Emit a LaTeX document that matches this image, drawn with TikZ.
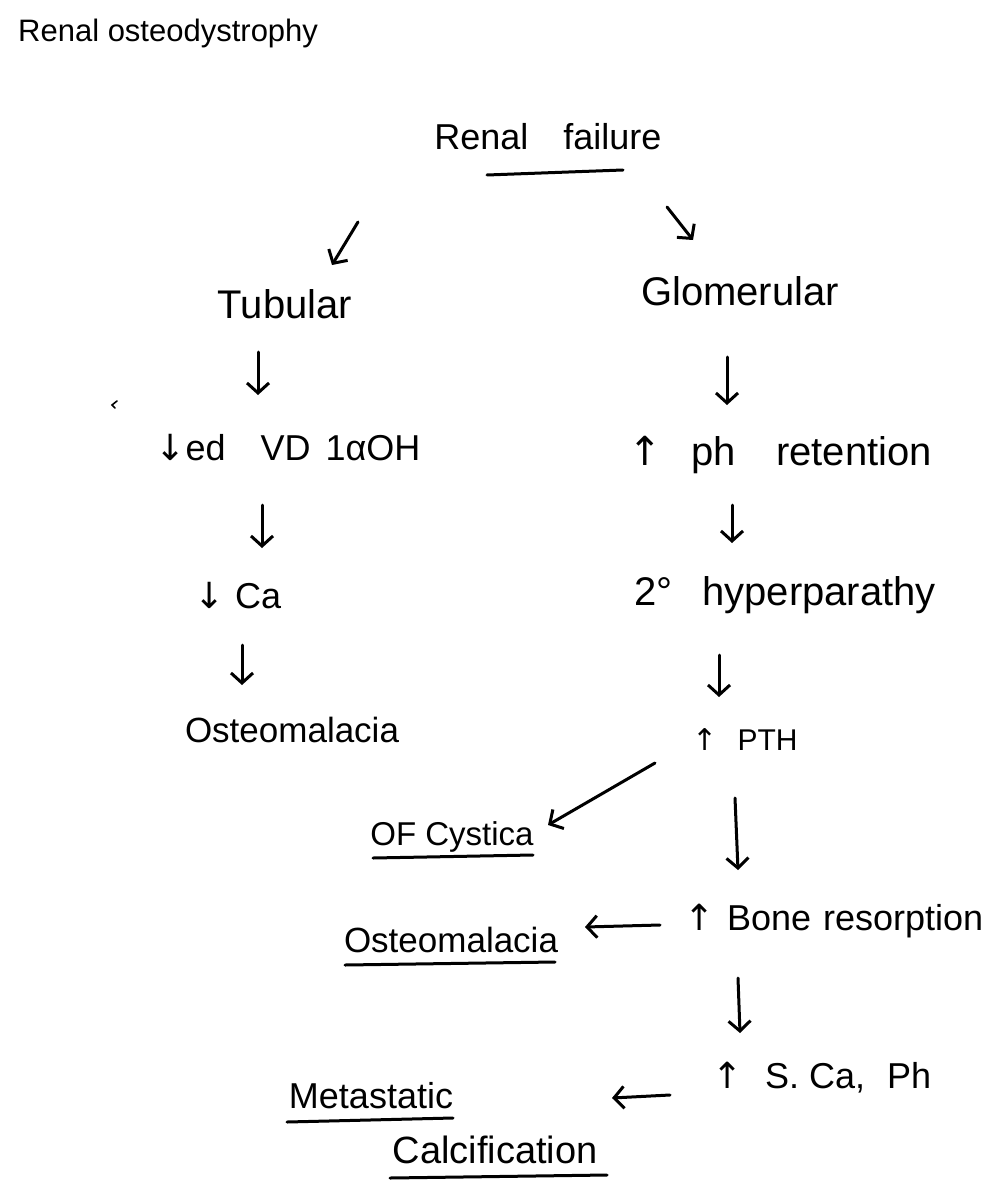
\documentclass[tikz,border=0pt]{standalone}
\usepackage{fontspec}
\setmainfont{Liberation Sans}
\newfontfamily\symf{DejaVu Sans}
\usetikzlibrary{arrows.meta,calc}
\newcommand{\up}{{\symf ↑}}
\newcommand{\dn}{{\symf ↓}}
\newcommand{\fs}[1]{\fontsize{#1}{#1}\selectfont}
\tikzset{
  hw/.style={anchor=base, inner sep=0pt, font=\fs{36}, text=black},
  arr/.style={line width=3pt, line cap=round, line join=round, -{Straight Barb[length=10pt,width=22pt,line width=3pt]}},
  uline/.style={line width=3pt, line cap=round}
}
\begin{document}
\begin{tikzpicture}[x=1pt,y=-1pt]
\fill[white] (0,0) rectangle (1002,1201);
\useasboundingbox (0,0) rectangle (1002,1201);

\node[anchor=base west, inner sep=0pt, font=\fs{31}] (title) at (18,42) {Renal osteodystrophy};

\node[hw] (rf) at (548,150) {Renal\hspace{35pt}failure};
\node[hw, font=\fs{40}] (tub) at (285,318) {Tubular};
\node[hw, font=\fs{40}] (glom) at (740,305) {Glomerular};
\node[hw] (ved) at (288,460) {\dn ed\hspace{35pt}VD\hspace{15pt}1αOH};
\node[hw] (ca) at (238,608) {\dn\ Ca};
\node[hw, font=\fs{35}] (ost1) at (292,742) {Osteomalacia};
\node[hw, font=\fs{40}] (ph) at (780,465) {\up\hspace{30pt}ph\hspace{40pt}retention};
\node[hw, font=\fs{40}] (hyp) at (785,605) {2°\hspace{30pt}hyperparathy};
\node[hw, font=\fs{30}] (pth) at (745,750) {\up\hspace{20pt}PTH};
\node[hw, font=\fs{33}] (ofc) at (452,845) {OF Cystica};
\node[hw] (bone) at (834,930) {\up\hspace{12pt}Bone\hspace{12pt}resorption};
\node[hw, font=\fs{35}] (ost2) at (451,952) {Osteomalacia};
\node[hw] (sca) at (822,1088) {\up\hspace{22pt}S.\hspace{10pt}Ca,\hspace{22pt}Ph};
\node[hw] (meta) at (371,1108) {Metastatic};
\node[hw, font=\fs{38}] (calc) at (495,1163) {Calcification};

% connectors
\draw[arr] ($(rf.base)+(-190,72)$) -- ($(tub.base)+(47,-53)$);
\draw[arr] ($(rf.base)+(119,57)$) -- ($(glom.base)+(-47,-65)$);
\draw[arr] ($(tub.base)+(-27,34)$) -- ($(ved.base)+(-30,-65)$);
\draw[arr] ($(ved.base)+(-26,45)$) -- ($(ca.base)+(24,-60)$);
\draw[arr] ($(ca.base)+(4,37)$) -- ($(ost1.base)+(-50,-57)$);
\draw[arr] ($(glom.base)+(-13,52)$) -- ($(ph.base)+(-53,-60)$);
\draw[arr] ($(ph.base)+(-48,40)$) -- ($(hyp.base)+(-53,-62)$);
\draw[arr] ($(hyp.base)+(-66,50)$) -- ($(pth.base)+(-26,-53)$);
\draw[arr] ($(pth.base)+(-90,13)$) -- ($(ofc.base)+(96,-20)$);
\draw[arr] ($(pth.base)+(-10,48)$) -- ($(bone.base)+(-96,-60)$);
\draw[arr] ($(bone.base)+(-174,-5)$) -- ($(ost2.base)+(134,-25)$);
\draw[arr] ($(bone.base)+(-96,48)$) -- ($(sca.base)+(-82,-55)$);
\draw[arr] ($(sca.base)+(-152,7)$) -- ($(meta.base)+(241,-10)$);

% underlines
\draw[uline] ($(rf.base)+(-61,25)$) -- ($(rf.base)+(75,20)$);
\draw[uline] ($(ofc.base)+(-79,13)$) -- ($(ofc.base)+(81,10)$);
\draw[uline] ($(ost2.base)+(-106,13)$) -- ($(ost2.base)+(104,10)$);
\draw[uline] ($(meta.base)+(-84,14)$) -- ($(meta.base)+(82,10)$);
\draw[uline] ($(calc.base)+(-105,15)$) -- ($(calc.base)+(112,12)$);

% stray pen mark
\draw[line width=1.6pt, line cap=round] (117,401) -- (112,405) -- (115,408);
\end{tikzpicture}
\end{document}
